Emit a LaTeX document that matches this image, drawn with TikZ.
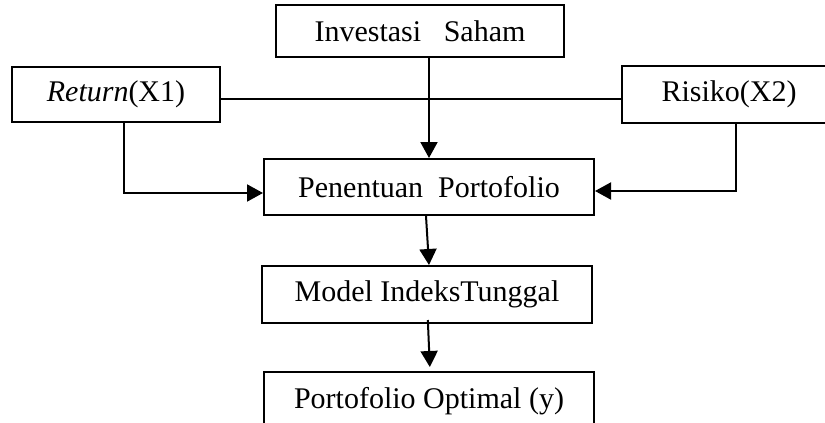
\documentclass[tikz,border=0pt]{standalone}
\usepackage{fontspec}
\setmainfont{Liberation Serif}
\usetikzlibrary{arrows.meta,calc}
\tikzset{
  box/.style={draw, line width=1pt, inner sep=0pt, font=\fontsize{15}{18}\selectfont},
  conn/.style={line width=1pt},
  arr/.style={conn, -{Triangle[length=8pt,width=8.5pt]}},
}
\begin{document}
\begin{tikzpicture}[x=0.5pt,y=-0.5pt]
\useasboundingbox (0,0) rectangle (825,423);
\clip (0,0) rectangle (825,423);
\node[box, minimum width=144pt, minimum height=26pt] (inv) at (420,31) {Investasi\hspace{0.75em}Saham};
\node[box, minimum width=104pt, minimum height=27.5pt] (ret) at (116,94.5) {\textit{Return}(X1)};
\node[box, minimum width=107pt, minimum height=28.5pt] (ris) at (729,94.5) {Risiko(X2)};
\node[box, minimum width=165pt, minimum height=28pt] (pen) at (429,187) {Penentuan\ \ Portofolio};
\node[box, minimum width=165pt, minimum height=28.5pt] (mod) at (427,294.5) {Model IndeksTunggal};
\node[box, minimum width=165pt, minimum height=29pt] (por) at (429,401) {Portofolio Optimal (y)};
% horizontal line between inputs
\draw[conn] ($(ret.east)+(0,4)$) -- ($(ris.west)+(0,4)$);
% investasi to penentuan
\draw[arr] (inv.south -| pen.north) -- (pen.north);
% return to penentuan
\draw[arr] ([xshift=4pt]ret.south) |- ($(pen.west)+(0,6)$);
% risiko to penentuan
\draw[arr] ([xshift=3.5pt]ris.south) |- ($(pen.east)+(0,4)$);
% penentuan to model
\draw[arr] ([xshift=-1.5pt]pen.south) -- ([xshift=1pt]mod.north);
% model to portofolio
\draw[arr, shorten <=-2pt, shorten >=2pt] ([xshift=0.5pt]mod.south) -- ([xshift=0.5pt]por.north);
\end{tikzpicture}
\end{document}
